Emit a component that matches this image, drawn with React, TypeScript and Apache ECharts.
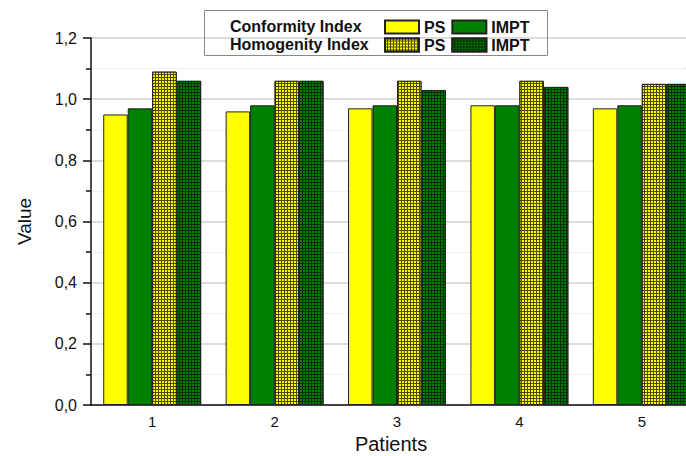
import React, { useEffect, useRef } from "react";
import * as echarts from "echarts";

const patients = ["1", "2", "3", "4", "5"];
const ciPS = [0.95, 0.96, 0.97, 0.98, 0.97];
const ciIMPT = [0.97, 0.98, 0.98, 0.98, 0.98];
const hiPS = [1.09, 1.06, 1.06, 1.06, 1.05];
const hiIMPT = [1.06, 1.06, 1.03, 1.04, 1.05];
const seriesNames = ["CI PS", "CI IMPT", "HI PS", "HI IMPT"];

const FONT = "Liberation Sans, Arial, sans-serif";

export default function App() {
  const ref = useRef<HTMLDivElement>(null);
  useEffect(() => {
    if (!ref.current) return;
    const chart = echarts.init(ref.current, null, { renderer: "svg" });
    const border = { borderColor: "#222", borderWidth: 1 };
    const hatch = (c: string) => ({
      symbol: "rect",
      symbolSize: 1,
      dashArrayX: [2, 1],
      dashArrayY: [2, 1],
      color: c,
      rotation: 0,
    });
    const legendText = { fontFamily: FONT, fontWeight: "bold", fontSize: 16, color: "#111" };
    const fmt = (n: string) => n.replace(/^(CI|HI) /, "");
    chart.setOption({
      animation: false,
      backgroundColor: "#fff",
      grid: { left: 91, top: 38, bottom: 51, right: -17, outerBoundsMode: "none", containLabel: false },
      legend: [
        {
          data: ["CI PS", "CI IMPT"],
          left: 384,
          top: 19,
          itemWidth: 34,
          itemHeight: 13,
          itemGap: 6,
          padding: 0,
          icon: "rect",
          formatter: fmt,
          textStyle: legendText,
        },
        {
          data: ["HI PS", "HI IMPT"],
          left: 384,
          top: 37,
          itemWidth: 34,
          itemHeight: 13,
          itemGap: 6,
          padding: 0,
          icon: "rect",
          formatter: fmt,
          textStyle: legendText,
        },
      ],
      graphic: [
        {
          type: "rect",
          shape: { x: 204.5, y: 10.5, width: 343, height: 45 },
          style: { fill: "none", stroke: "#888", lineWidth: 1 },
          z: 100,
        },
        {
          type: "text",
          x: 230,
          y: 26,
          style: { text: "Conformity Index", fontFamily: FONT, fontWeight: "bold", fontSize: 16, fill: "#111", verticalAlign: "middle" },
          z: 100,
        },
        {
          type: "text",
          x: 230,
          y: 44,
          style: { text: "Homogenity Index", fontFamily: FONT, fontWeight: "bold", fontSize: 16, fill: "#111", verticalAlign: "middle" },
          z: 100,
        },
        {
          type: "text",
          x: 391,
          y: 444,
          style: { text: "Patients", fontFamily: FONT, fontSize: 20, fill: "#111", align: "center", verticalAlign: "middle" },
          z: 100,
        },
      ],
      xAxis: [
        {
          type: "category",
          data: patients,
          axisLine: { lineStyle: { color: "#111", width: 1.5 } },
          axisTick: { alignWithLabel: true, length: 6, lineStyle: { color: "#111", width: 1.5 } },
          axisLabel: { fontFamily: FONT, fontSize: 15, color: "#111", margin: 9 },
        },
        {
          type: "category",
          data: patients,
          position: "bottom",
          axisLine: { show: false },
          axisTick: { length: 4, lineStyle: { color: "#111", width: 1.5 } },
          axisLabel: { show: false },
        },
      ],
      yAxis: {
        type: "value",
        min: 0,
        max: 1.2,
        interval: 0.2,
        name: "Value",
        nameLocation: "middle",
        nameGap: 57,
        nameTextStyle: { fontFamily: FONT, fontSize: 19, color: "#111" },
        axisLine: { show: true, lineStyle: { color: "#111", width: 1.5 } },
        axisTick: { show: true, length: 8, lineStyle: { color: "#111", width: 1.5 } },
        minorTick: { show: true, splitNumber: 2, length: 5, lineStyle: { color: "#111", width: 1.5 } },
        axisLabel: {
          fontFamily: FONT,
          fontSize: 16,
          color: "#111",
          margin: 14,
          formatter: (v: number) => v.toFixed(1).replace(".", ","),
        },
        splitLine: { show: true, lineStyle: { color: "#d0d0d0", width: 1.5 } },
        minorSplitLine: { show: true, lineStyle: { color: "#e0e0e0", width: 1, type: "dotted" } },
      },
      series: [
        {
          name: seriesNames[0],
          type: "bar",
          data: ciPS,
          barGap: "0%",
          barCategoryGap: "20%",
          itemStyle: { color: "#ffff00", ...border },
        },
        {
          name: seriesNames[1],
          type: "bar",
          data: ciIMPT,
          itemStyle: { color: "#008000", ...border },
        },
        {
          name: seriesNames[2],
          type: "bar",
          data: hiPS,
          itemStyle: { color: "#4a4a00", ...border, decal: hatch("#ffff00") },
        },
        {
          name: seriesNames[3],
          type: "bar",
          data: hiIMPT,
          itemStyle: { color: "#002a00", ...border, decal: hatch("#008000") },
        },
      ],
    });
    return () => chart.dispose();
  }, []);
  return <div ref={ref} style={{ width: 686, height: 456, position: "absolute", left: 0, top: 0 }} />;
}
